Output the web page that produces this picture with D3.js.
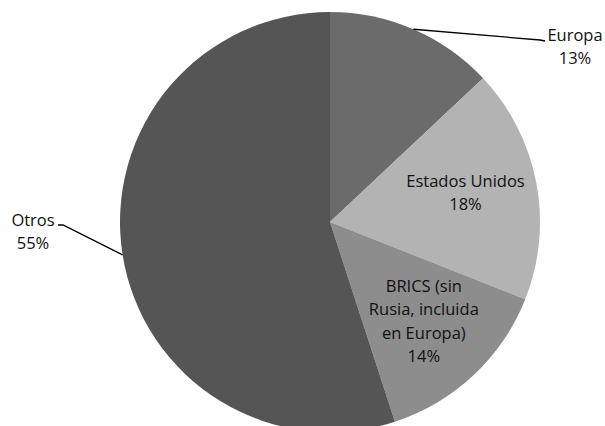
<!DOCTYPE html>
<html>
<head>
<meta charset="utf-8">
<script src="https://cdn.jsdelivr.net/npm/d3@7"></script>
<style>
  html, body { margin: 0; padding: 0; background: #fff; }
  svg { display: block; }
  text { font-family: "Open Sans", Lato, sans-serif; font-size: 16.5px; fill: #111; }
</style>
</head>
<body>
<svg id="chart" width="605" height="426"></svg>
<script>
// Regions and their share (%)
const regions = ["Europa", "Estados Unidos", "BRICS (sin Rusia, incluida en Europa)", "Otros"];
const shares = [13, 18, 14, 55];
const labelLines = [["Europa"], ["Estados Unidos"], ["BRICS (sin", "Rusia, incluida", "en Europa)"], ["Otros"]];
const fills = ["#6b6b6b", "#b3b3b3", "#8d8d8d", "#555555"];

const svg = d3.select("#chart");
const cx = 330, cy = 222, r = 210;

const data = regions.map((name, i) => ({ name, value: shares[i], lines: labelLines[i], fill: fills[i] }));

const pie = d3.pie().value(d => d.value).sort(null);
const arcs = pie(data);
const arc = d3.arc().innerRadius(0).outerRadius(r);

const g = svg.append("g").attr("transform", `translate(${cx},${cy})`);

g.selectAll("path")
  .data(arcs)
  .join("path")
  .attr("d", arc)
  .attr("fill", d => d.data.fill);

const lh = 23.5;

// Labels placed inside the slice
function insideLabel(d, rr, shiftY) {
  const [x, y] = d3.arc().innerRadius(rr).outerRadius(rr).centroid(d);
  const lines = d.data.lines.concat([d.data.value + "%"]);
  const t = g.append("text").attr("text-anchor", "middle");
  const y0 = y + shiftY - (lines.length - 1) * lh / 2;
  lines.forEach((s, i) => {
    t.append("tspan").attr("x", x - 2).attr("y", y0 + i * lh).attr("dy", "0.35em").text(s);
  });
}
insideLabel(arcs[1], 140, -3);
insideLabel(arcs[2], 140, -3);

// Labels outside the pie with leader lines
function outsideLabel(d, elbow, end, textX, textY, anchor) {
  const a = (d.startAngle + d.endAngle) / 2;
  const p0 = [r * Math.sin(a), -r * Math.cos(a)];
  g.append("polyline")
    .attr("points", [p0, elbow, end].map(p => p.join(",")).join(" "))
    .attr("fill", "none")
    .attr("stroke", "#000")
    .attr("stroke-width", 1.3);
  const t = g.append("text").attr("text-anchor", anchor);
  const lines = d.data.lines.concat([d.data.value + "%"]);
  lines.forEach((s, i) => {
    t.append("tspan").attr("x", textX).attr("y", textY + i * lh).attr("dy", "0.35em").text(s);
  });
}
// Europa: leader from upper edge to the right
outsideLabel(arcs[0], [210, 40 - cy], [215, 41 - cy], 575 - cx, 35 - cy, "middle");
// Otros: leader from left edge
outsideLabel(arcs[3], [63 - cx, 225 - cy], [58 - cx, 225 - cy], 33 - cx, 220 - cy, "middle");
</script>
</body>
</html>
